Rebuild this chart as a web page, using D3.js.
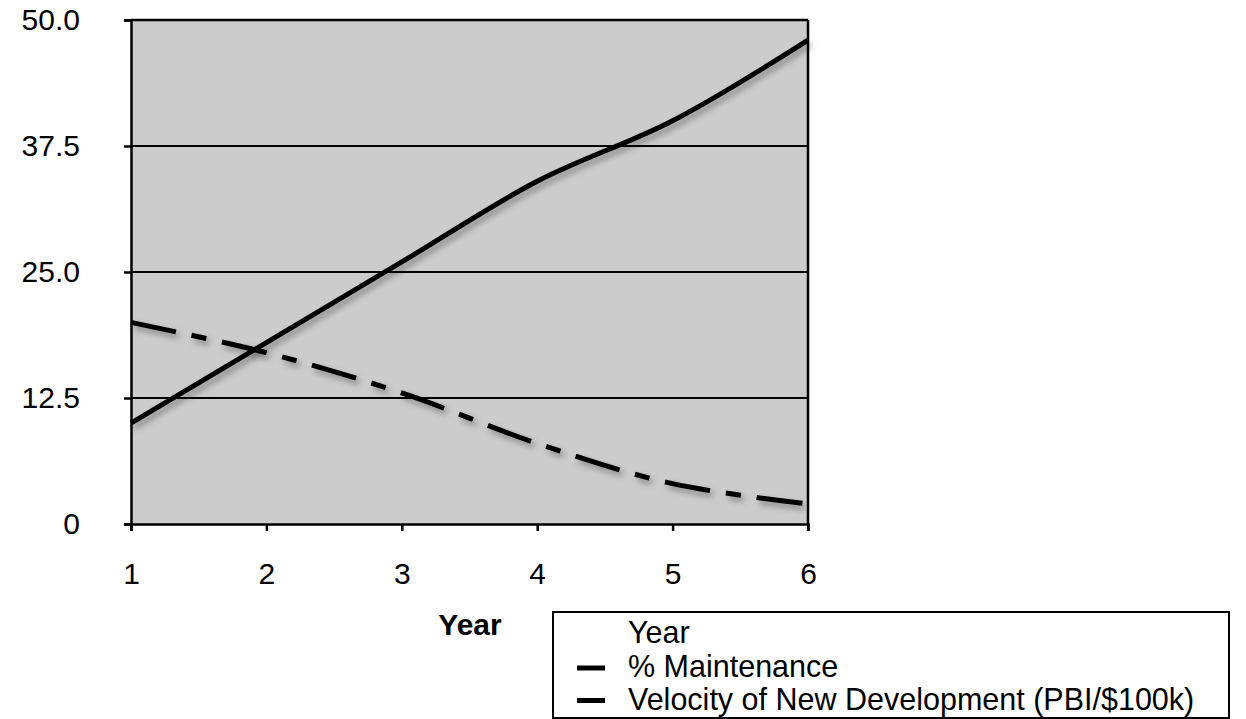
<!DOCTYPE html>
<html>
<head>
<meta charset="utf-8">
<script src="https://cdn.jsdelivr.net/npm/d3@7"></script>
<style>
  html, body { margin: 0; padding: 0; background: #fff; }
  svg { display: block; font-family: "Liberation Sans", Arial, Helvetica, sans-serif; }
</style>
</head>
<body>
<svg id="chart" width="1246" height="719"></svg>
<script>
// Years on the x axis
const years = [1, 2, 3, 4, 5, 6];
// Share of effort spent on maintenance (%)
const maintenance = [10, 18, 26, 34, 40, 48];
// Velocity of new development (PBI per $100k)
const velocity = [20, 17, 13, 8, 4, 2];
// Value axis ticks and their labels
const yTicks = [0, 12.5, 25, 37.5, 50];
const yTickLabels = ["0", "12.5", "25.0", "37.5", "50.0"];
const xTitle = "Year";
const legendItems = ["Year", "% Maintenance", "Velocity of New Development (PBI/$100k)"];

const svg = d3.select("#chart");
const plot = { left: 131, right: 808, top: 20, bottom: 524 };
const FONT = "'Liberation Sans', Arial, sans-serif";

const x = d3.scaleLinear().domain([1, 6]).range([plot.left, plot.right]);
const y = d3.scaleLinear().domain([0, 50]).range([plot.bottom, plot.top]);

// soft shadow under the data lines
const defs = svg.append("defs");
const f = defs.append("filter").attr("id", "shadow")
  .attr("x", "-10%").attr("y", "-10%").attr("width", "130%").attr("height", "130%");
f.append("feDropShadow").attr("dx", 3).attr("dy", 4).attr("stdDeviation", 3)
  .attr("flood-color", "#000").attr("flood-opacity", 0.35);

// plot background
svg.append("rect")
  .attr("x", plot.left).attr("y", plot.top)
  .attr("width", plot.right - plot.left).attr("height", plot.bottom - plot.top)
  .attr("fill", "#cccccc");

// horizontal gridlines
svg.append("g").selectAll("line")
  .data(yTicks.filter(v => v > 0 && v < 50))
  .join("line")
  .attr("x1", plot.left).attr("x2", plot.right)
  .attr("y1", d => y(d)).attr("y2", d => y(d))
  .attr("stroke", "#000").attr("stroke-width", 2);

// frame: top and right borders
svg.append("line").attr("x1", plot.left).attr("x2", plot.right)
  .attr("y1", plot.top).attr("y2", plot.top).attr("stroke", "#000").attr("stroke-width", 2.5);
svg.append("line").attr("x1", plot.right).attr("x2", plot.right)
  .attr("y1", plot.top).attr("y2", plot.bottom).attr("stroke", "#000").attr("stroke-width", 2.5);

// y axis
const yAxis = d3.axisLeft(y).tickValues(yTicks)
  .tickFormat((d, i) => yTickLabels[i]).tickSize(7).tickPadding(44);
const gy = svg.append("g").attr("transform", `translate(${plot.left},0)`).call(yAxis);
gy.select(".domain").attr("stroke", "#000").attr("stroke-width", 2.5);
gy.selectAll(".tick line").attr("stroke", "#000").attr("stroke-width", 2.5);
gy.selectAll(".tick text").attr("font-size", 30).attr("fill", "#000").attr("font-family", FONT);

// x axis
const xAxis = d3.axisBottom(x).tickValues(years).tickFormat(d3.format("d"))
  .tickSize(7).tickPadding(32);
const gx = svg.append("g").attr("transform", `translate(0,${plot.bottom})`).call(xAxis);
gx.select(".domain").attr("stroke", "#000").attr("stroke-width", 2.5);
gx.selectAll(".tick line").attr("stroke", "#000").attr("stroke-width", 2.5);
gx.selectAll(".tick text").attr("font-size", 30).attr("fill", "#000").attr("font-family", FONT);

// x axis title
svg.append("text").attr("x", 470).attr("y", 635)
  .attr("text-anchor", "middle").attr("font-size", 30).attr("font-weight", "bold")
  .text(xTitle);

// data lines
const line = d3.line().x(d => x(d[0])).y(d => y(d[1])).curve(d3.curveCatmullRom.alpha(0.5));

svg.append("path")
  .datum(years.map((yr, i) => [yr, maintenance[i]]))
  .attr("d", line)
  .attr("fill", "none").attr("stroke", "#000").attr("stroke-width", 5)
  .attr("filter", "url(#shadow)");

svg.append("path")
  .datum(years.map((yr, i) => [yr, velocity[i]]))
  .attr("d", line)
  .attr("fill", "none").attr("stroke", "#000").attr("stroke-width", 5)
  .attr("stroke-dasharray", "46,16,15,16")
  .attr("filter", "url(#shadow)");

// legend
const lg = svg.append("g");
lg.append("rect").attr("x", 553).attr("y", 612).attr("width", 676).attr("height", 106)
  .attr("fill", "#fff").attr("stroke", "#000").attr("stroke-width", 2);
lg.selectAll("text").data(legendItems).join("text")
  .attr("x", 628).attr("y", (d, i) => 643 + i * 33.5)
  .attr("font-size", 30.5).attr("fill", "#000")
  .text(d => d);
lg.selectAll("line.key").data(legendItems.slice(1)).join("line")
  .attr("class", "key")
  .attr("x1", 577).attr("x2", 605)
  .attr("y1", (d, i) => 668 + i * 32.5).attr("y2", (d, i) => 668 + i * 32.5)
  .attr("stroke", "#000").attr("stroke-width", 5);
</script>
</body>
</html>
